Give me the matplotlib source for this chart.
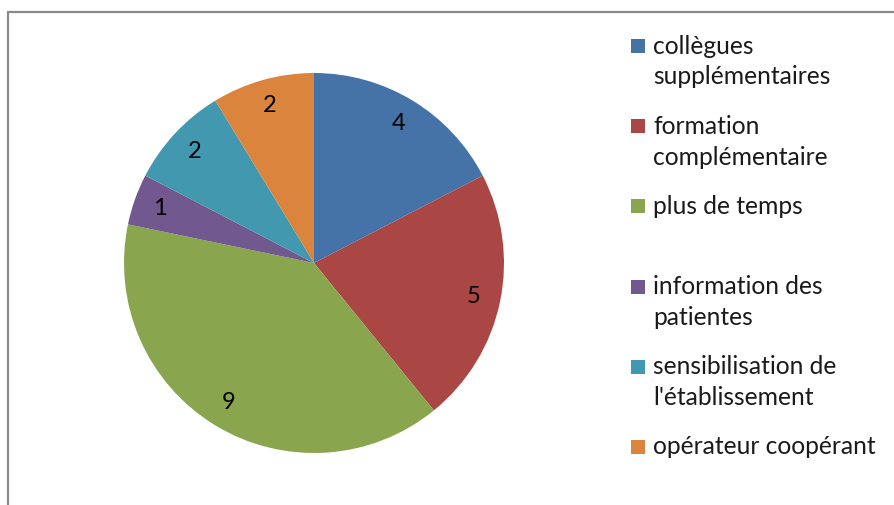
import matplotlib.pyplot as plt
from matplotlib.patches import Rectangle

plt.rcParams['font.family'] = ['Lato', 'DejaVu Sans']

categories = ["collègues\nsupplémentaires", "formation\ncomplémentaire", "plus de temps",
              "information des\npatientes", "sensibilisation de\nl'établissement", "opérateur coopérant"]
values = [4, 5, 9, 1, 2, 2]
colors = ['#4572A7', '#AA4643', '#89A54E', '#71588F', '#4198AF', '#DB843D']

W, H = 895, 505
fig = plt.figure(figsize=(W / 100, H / 100), dpi=100)

# pie centred at (314, 263) px, radius 190 px
cx, cy, r = 314, 263, 190
ax = fig.add_axes([(cx - r) / W, (H - cy - r) / H, 2 * r / W, 2 * r / H])
total = sum(values)
ax.pie(values, colors=colors, startangle=90, counterclock=False,
       autopct=lambda p: '%d' % round(p * total / 100), pctdistance=0.86,
       textprops={'fontsize': 17, 'color': 'black'},
       wedgeprops={'linewidth': 0})
ax.set_xlim(-1, 1)
ax.set_ylim(-1, 1)
ax.axis('off')

# legend drawn by hand, like excel: square next to first line
y0, step, line_h = 46, 80.2, 31
for i, (lab, col) in enumerate(zip(categories, colors)):
    y = y0 + i * step
    fig.add_artist(Rectangle((631 / W, 1 - (y + 7) / H), 14 / W, 14 / H,
                             transform=fig.transFigure, facecolor=col, edgecolor='none'))
    for k, line in enumerate(lab.split('\n')):
        fig.text(653 / W, 1 - (y + k * line_h) / H, line, fontsize=17.7,
                 va='center', ha='left', color='#1a1a1a')

# chart border (runs off the right and bottom edges)
fig.add_artist(Rectangle((8 / W, -0.1), 1.2, 1.1 - 12 / H, transform=fig.transFigure,
                         fill=False, edgecolor='#8a8a8a', linewidth=1.6))

fig.savefig('out.png', dpi=100)
